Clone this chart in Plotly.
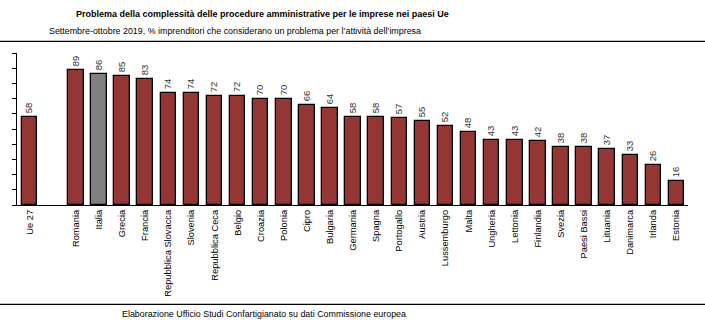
import plotly.graph_objects as go

categories = ["Ue 27", " ", "Romania", "Italia", "Grecia", "Francia", "Repubblica Slovacca",
              "Slovenia", "Repubblica Ceca", "Belgio", "Croazia", "Polonia", "Cipro", "Bulgaria",
              "Germania", "Spagna", "Portogallo", "Austria", "Lussemburgo", "Malta", "Ungheria",
              "Lettonia", "Finlandia", "Svezia", "Paesi Bassi", "Lituania", "Danimarca", "Irlanda",
              "Estonia"]
values = [58, None, 89, 86, 85, 83, 74, 74, 72, 72, 70, 70, 66, 64, 58, 58, 57, 55, 52, 48,
          43, 43, 42, 38, 38, 37, 33, 26, 16]
highlight = "Italia"

RED = "#943634"
GREY = "#808080"
FONT = "Liberation Sans Narrow, Arial Narrow, Liberation Sans, Arial, sans-serif"

xs = list(range(len(categories)))
colors = [GREY if c == highlight else RED for c in categories]
texts = ["" if v is None else str(v) for v in values]

fig = go.Figure()
fig.add_trace(go.Bar(
    x=xs, y=values,
    marker=dict(color=colors, line=dict(color="black", width=1.3)),
    width=0.67,
    text=texts, textposition="outside", textangle=-90,
    textfont=dict(family=FONT, size=9.5, color="#333333"),
    cliponaxis=False,
    hoverinfo="skip",
))

fig.update_layout(
    width=705, height=332,
    margin=dict(l=17, r=17, t=53, b=127),
    paper_bgcolor="white", plot_bgcolor="white",
    showlegend=False,
    font=dict(family=FONT, color="black"),
    bargap=0,
    xaxis=dict(
        range=[-0.55, 28.5],
        tickmode="array", tickvals=xs, ticktext=categories,
        tickangle=-90, tickfont=dict(family=FONT, size=9.3, color="black"),
        showline=True, linecolor="black", linewidth=1.3,
        ticks="", showgrid=False, zeroline=False, fixedrange=True,
    ),
    yaxis=dict(
        range=[0, 100], dtick=10,
        showticklabels=False, ticks="outside", ticklen=4, tickcolor="black", tickwidth=1.3,
        showline=True, linecolor="black", linewidth=1.3,
        showgrid=False, zeroline=False, fixedrange=True,
    ),
    shapes=[
        dict(type="line", xref="paper", yref="paper", x0=-0.03, x1=1.03,
             y0=(204.7 - 41) / 152, y1=(204.7 - 41) / 152,
             line=dict(color="black", width=1.2)),
        dict(type="line", xref="paper", yref="paper", x0=-0.03, x1=1.03,
             y0=(204.7 - 304) / 152, y1=(204.7 - 304) / 152,
             line=dict(color="black", width=1.2)),
    ],
    annotations=[
        dict(text="<b>Problema della complessità delle procedure amministrative per le imprese nei paesi Ue</b>",
             xref="paper", yref="paper", x=(262 - 17) / 671, y=(204.7 - 14) / 152,
             xanchor="center", yanchor="middle", showarrow=False,
             font=dict(family=FONT, size=9.0, color="black")),
        dict(text="Settembre-ottobre 2019, % imprenditori che considerano un problema per l’attività dell’impresa",
             xref="paper", yref="paper", x=(235 - 17) / 671, y=(204.7 - 31) / 152,
             xanchor="center", yanchor="middle", showarrow=False,
             font=dict(family=FONT, size=8.9, color="black")),
        dict(text="Elaborazione Ufficio Studi Confartigianato su dati Commissione europea",
             xref="paper", yref="paper", x=(264 - 17) / 671, y=(204.7 - 314) / 152,
             xanchor="center", yanchor="middle", showarrow=False,
             font=dict(family=FONT, size=8.9, color="black")),
    ],
)

fig.write_html("out.html")
